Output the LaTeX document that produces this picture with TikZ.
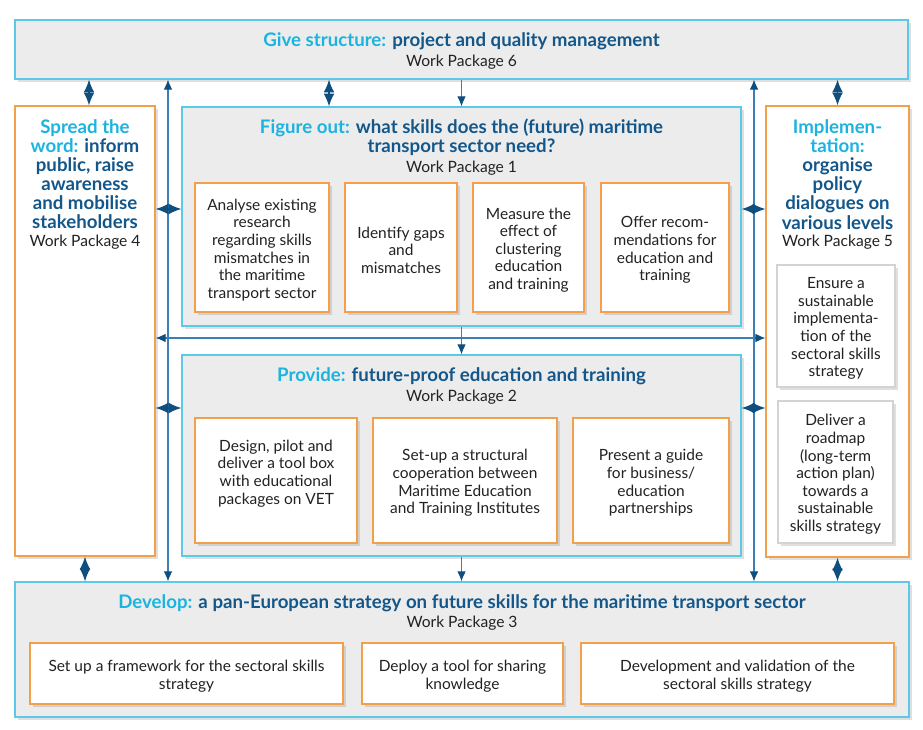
\documentclass[tikz,border=0pt]{standalone}
\usepackage{fontspec}
\setmainfont{Lato}
\usetikzlibrary{arrows.meta,fit,shadows,calc}
\definecolor{cyanT}{HTML}{1BB3E0}
\definecolor{navy}{HTML}{13578A}
\definecolor{lineblue}{HTML}{3A7FB8}
\definecolor{arrowblue}{HTML}{0E4F80}
\definecolor{orangeB}{HTML}{F2A04A}
\definecolor{cyanB}{HTML}{5CC9E8}
\definecolor{grayF}{HTML}{ECECEC}
\definecolor{grayB}{HTML}{D3D3D3}
\definecolor{txt}{HTML}{222222}
\tikzset{
  shadowed/.style={drop shadow={opacity=0.25, shadow xshift=2pt, shadow yshift=-2pt}},
  wp/.style={draw=cyanB, line width=1pt, fill=grayF, inner sep=0pt, shadowed},
  side/.style={draw=orangeB, line width=1pt, fill=white, inner sep=0pt, shadowed},
  task/.style={draw=orangeB, line width=0.9pt, fill=white, inner sep=0pt, shadowed},
  gtask/.style={task, draw=grayB},
  tasktext/.style={align=center, inner sep=0pt, font=\fontsize{11.6}{13.2}\selectfont, text=txt},
  wptitle/.style={align=center, font=\bfseries\fontsize{14}{14.3}\selectfont, text=navy},
  wplabel/.style={font=\fontsize{11.7}{13}\selectfont, text=txt},
  conn/.style={draw=lineblue, line width=0.8pt},
  tip/.style={-{Latex[length=7.5pt,width=6.5pt,color=arrowblue]}},
  bitip/.style={{Latex[length=7.5pt,width=6.5pt,color=arrowblue]}-{Latex[length=7.5pt,width=6.5pt,color=arrowblue]}},
  dia/.style={draw=arrowblue, line width=0.9pt,
    {Latex[length=9.5pt,width=8pt]}-{Latex[length=9.5pt,width=8pt]}},
}
\newcommand{\hl}[1]{{\color{cyanT}#1}}
\begin{document}
\begin{tikzpicture}[x=0.75pt,y=-0.75pt]
\useasboundingbox (0,0) rectangle (923,730);
% containers
\node[wp, fit={(15,20) (908,79)}] (wp6) {};
\node[side, fit={(15,106) (155,556)}] (wp4) {};
\node[side, fit={(766,106) (909,557)}] (wp5) {};
\node[wp, fit={(182,107) (741,326)}] (wp1) {};
\node[wp, fit={(182,355) (741,556)}] (wp2) {};
\node[wp, fit={(15,582) (909,717)}] (wp3) {};
% titles
\node[wptitle] (t6) at (461.5,41) {\hl{Give structure:} project and quality management};
\node[wplabel] (l6) at (461.5,62) {Work Package 6};
\node[wptitle] (t1) at (461.5,137.5) {\hl{Figure out:} what skills does the (future) maritime\\transport sector need?};
\node[wplabel] (l1) at (461.5,168) {Work Package 1};
\node[wptitle] (t2) at (461.5,376) {\hl{Provide:} future-proof education and training};
\node[wplabel] (l2) at (461.5,397) {Work Package 2};
\node[wptitle] (t3) at (462,603) {\hl{Develop:} a pan-European strategy on future skills for the maritime transport sector};
\node[wplabel] (l3) at (462,623) {Work Package 3};
\node[wptitle] (t4) at (85,174) {\hl{Spread the}\\\hl{word:} inform\\public, raise\\awareness\\and mobilise\\stakeholders};
\node[wplabel] (l4) at (85,242) {Work Package 4};
\node[wptitle] (t5) at (837.5,174.5) {\hl{Implemen-}\\\hl{tation:}\\organise\\policy\\dialogues on\\various levels};
\node[wplabel] (l5) at (837.5,242) {Work Package 5};
% task boxes
\node[task, fit={(195,183) (329,312)}] (a1) {};
\node[task, fit={(345,183) (457,312)}] (a2) {};
\node[task, fit={(473,183) (584,312)}] (a3) {};
\node[task, fit={(601,183) (729,312)}] (a4) {};
\node[task, fit={(195,418) (357,543)}] (b1) {};
\node[task, fit={(373,418) (557,543)}] (b2) {};
\node[task, fit={(573,418) (729,543)}] (b3) {};
\node[task, fit={(30,643) (343,704)}] (c1) {};
\node[task, fit={(362,643) (563,704)}] (c2) {};
\node[task, fit={(581,643) (894,704)}] (c3) {};
\node[gtask, fit={(777,265) (895,387)}] (e1) {};
\node[gtask, fit={(778,401) (893,543)}] (e2) {};
% task texts
\node[tasktext] (a1t) at ($(a1)+(0,2.5)$) {Analyse existing\\research\\regarding skills\\mismatches in\\the maritime\\transport sector};
\node[tasktext] (a2t) at ($(a2)+(0,2.5)$) {Identify gaps\\and\\mismatches};
\node[tasktext] (a3t) at ($(a3)+(0,2.5)$) {Measure the\\effect of\\clustering\\education\\and training};
\node[tasktext] (a4t) at ($(a4)+(0,2.5)$) {Offer recom-\\mendations for\\education and\\training};
\node[tasktext] (b1t) at ($(b1)+(0,-7)$) {Design, pilot and\\deliver a tool box\\with educational\\packages on VET};
\node[tasktext] (b2t) at ($(b2)+(0,2.5)$) {Set-up a structural\\cooperation between\\Maritime Education\\and Training Institutes};
\node[tasktext] (b3t) at ($(b3)+(0,2.5)$) {Present a guide\\for business/\\education\\partnerships};
\node[tasktext] (c1t) at ($(c1)+(0,2.5)$) {Set up a framework for the sectoral skills\\strategy};
\node[tasktext] (c2t) at ($(c2)+(0,2.5)$) {Deploy a tool for sharing\\knowledge};
\node[tasktext] (c3t) at ($(c3)+(0,2.5)$) {Development and validation of the\\sectoral skills strategy};
\node[tasktext] (e1t) at ($(e1)+(0,2.5)$) {Ensure a\\sustainable\\implementa-\\tion of the\\sectoral skills\\strategy};
\node[tasktext] (e2t) at ($(e2)+(0,2.5)$) {Deliver a\\roadmap\\(long-term\\action plan)\\towards a\\sustainable\\skills strategy};
% helper coordinates
\coordinate (vl) at (168,0);
\coordinate (vr) at (754,0);
\coordinate (hy) at (0,338);
\coordinate (r1) at (0,209);
\coordinate (r2) at (0,408);
\coordinate (d1) at (89,0);
\coordinate (d2) at (329,0);
% connectors
\draw[conn, bitip] (wp6.south -| vl) -- (wp3.north -| vl);
\draw[conn, bitip] (wp6.south -| vr) -- (wp3.north -| vr);
\draw[conn, bitip] (wp4.east |- hy) -- (wp5.west |- hy);
\draw[conn, tip] (wp6.south -| wp1.north) -- (wp1.north);
\draw[conn, tip] (wp1.south) -- (wp2.north);
\draw[conn, tip] (wp2.south) -- (wp3.north -| wp2.south);
\draw[dia] (wp6.south -| d1) -- (wp4.north -| d1);
\draw[dia] (wp6.south -| d2) -- (wp1.north -| d2);
\draw[dia] (wp6.south -| wp5.north) -- (wp5.north);
\draw[dia] (wp4.east |- r1) -- (wp1.west |- r1);
\draw[dia] (wp1.east |- r1) -- (wp5.west |- r1);
\draw[dia] (wp4.east |- r2) -- (wp2.west |- r2);
\draw[dia] (wp2.east |- r2) -- (wp5.west |- r2);
\draw[dia] (wp4.south) -- (wp3.north -| wp4.south);
\draw[dia] (wp5.south) -- (wp3.north -| wp5.south);
\end{tikzpicture}
\end{document}
